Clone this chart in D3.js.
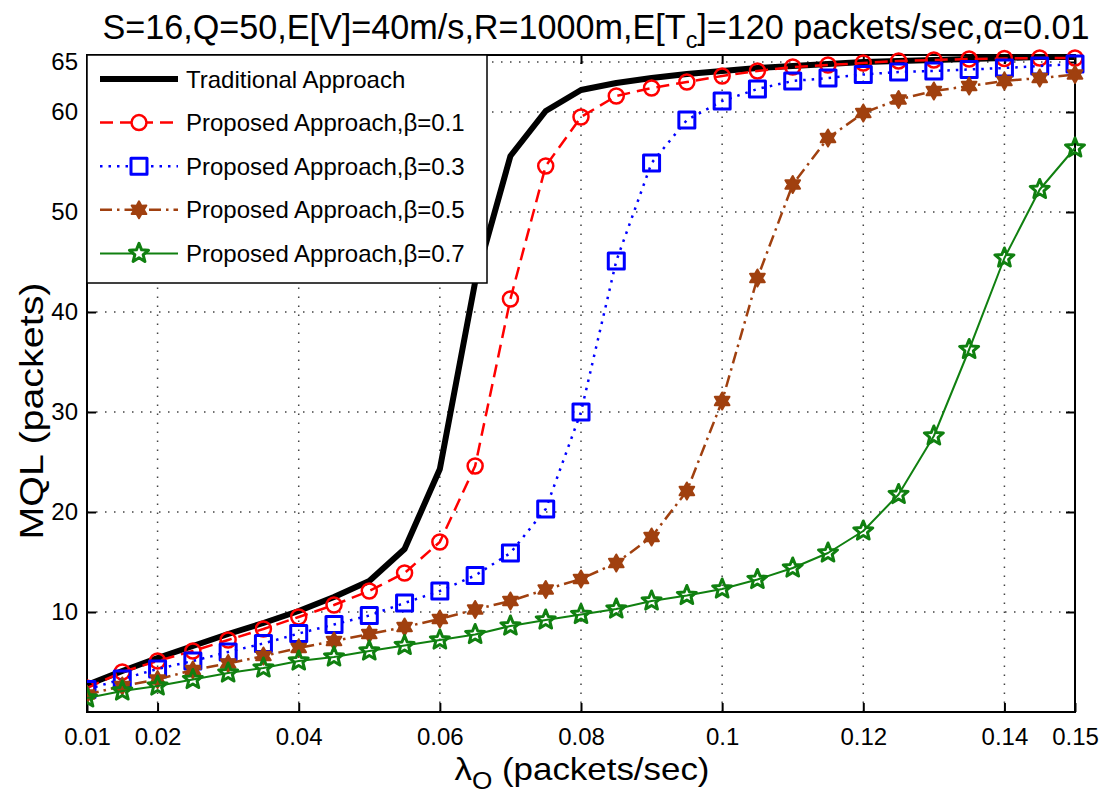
<!DOCTYPE html>
<html>
<head>
<meta charset="utf-8">
<script src="https://cdn.jsdelivr.net/npm/d3@7/dist/d3.min.js"></script>
<style>
  body { margin: 0; background: #fff; }
  text { font-family: "Liberation Sans", Arial, Helvetica, sans-serif; fill: #000; }
</style>
</head>
<body>
<svg id="chart" width="1110" height="800"></svg>
<script>
// arrival rate lambda_O (packets/sec)
var lambdas = [0.010, 0.015, 0.020, 0.025, 0.030, 0.035, 0.040, 0.045, 0.050, 0.055,
               0.060, 0.065, 0.070, 0.075, 0.080, 0.085, 0.090, 0.095, 0.100, 0.105,
               0.110, 0.115, 0.120, 0.125, 0.130, 0.135, 0.140, 0.145, 0.150];

// MQL (packets)
var traditional = [2.7, 4.1, 5.4, 6.6, 7.8, 8.9, 10.1, 11.5, 13.1, 16.3,
                   24.3, 43.0, 55.6, 60.1, 62.2, 62.9, 63.4, 63.8, 64.1, 64.4,
                   64.6, 64.8, 65.0, 65.1, 65.2, 65.3, 65.4, 65.5, 65.5];
var beta01 = [2.4, 4.0, 5.1, 6.1, 7.2, 8.3, 9.5, 10.7, 12.1, 13.9,
              17.0, 24.6, 41.3, 54.6, 59.5, 61.6, 62.4, 63.0, 63.6, 64.1,
              64.5, 64.7, 64.9, 65.1, 65.2, 65.3, 65.35, 65.4, 65.4];
var beta03 = [2.25, 3.3, 4.3, 5.1, 6.0, 6.85, 7.85, 8.75, 9.65, 10.9,
              12.1, 13.65, 15.9, 20.3, 30.0, 45.1, 54.9, 59.2, 61.1, 62.3,
              63.1, 63.4, 63.75, 64.0, 64.1, 64.25, 64.4, 64.6, 64.8];
var beta05 = [1.75, 2.6, 3.25, 4.2, 4.85, 5.6, 6.4, 7.1, 7.8, 8.5,
              9.3, 10.25, 11.1, 12.25, 13.3, 14.9, 17.5, 22.1, 31.1, 43.4,
              52.75, 57.4, 59.9, 61.25, 62.1, 62.6, 63.1, 63.4, 63.75];
var beta07 = [1.4, 2.1, 2.6, 3.25, 3.9, 4.4, 5.1, 5.5, 6.1, 6.65,
              7.2, 7.75, 8.6, 9.2, 9.75, 10.3, 11.1, 11.65, 12.3, 13.25,
              14.4, 15.9, 18.1, 21.75, 27.6, 36.25, 45.4, 52.25, 56.4];

var seriesNames = ["Traditional Approach", "Proposed Approach,\u03b2=0.1", "Proposed Approach,\u03b2=0.3",
                   "Proposed Approach,\u03b2=0.5", "Proposed Approach,\u03b2=0.7"];

var xTicks = [0.01, 0.02, 0.04, 0.06, 0.08, 0.1, 0.12, 0.14, 0.15];
var yTicks = [10, 20, 30, 40, 50, 60, 65];

// star shaped markers (pentagram / hexagram)
function starPath(n, ro, ri) {
  var pts = [];
  for (var k = 0; k < 2 * n; k++) {
    var a = -Math.PI / 2 + k * Math.PI / n;
    var r = k % 2 ? ri : ro;
    pts.push([(r * Math.cos(a)).toFixed(2), (r * Math.sin(a)).toFixed(2)]);
  }
  return "M" + pts.join("L") + "Z";
}

var styles = [
  {values: traditional, color: "#000000", width: 6,   dash: null,         marker: null,        mfill: "none", mw: 0},
  {values: beta01,      color: "#ff0000", width: 2.5, dash: "13,7",       marker: "circle",    mfill: "none", mw: 2.5},
  {values: beta03,      color: "#0000ff", width: 2.5, dash: "2.5,6",      marker: "square",    mfill: "none", mw: 3},
  {values: beta05,      color: "#a0400f", width: 2.5, dash: "12,5,2.5,5", marker: "hexagram",  mfill: "#a0400f", mw: 2},
  {values: beta07,      color: "#108010", width: 2,   dash: null,         marker: "pentagram", mfill: "none", mw: 3}
];

function markerPath(type) {
  if (type == "circle") return d3.symbol().type(d3.symbolCircle).size(Math.PI * 7.5 * 7.5)();
  if (type == "square") return "M-8,-8L8,-8L8,8L-8,8Z";
  if (type == "hexagram") return starPath(6, 8.5, 4.8);
  if (type == "pentagram") return starPath(5, 10, 4.4);
  return "";
}

(function draw(){
  var svg = d3.select("#chart");
  var pLeft = 87, pRight = 1075, pTop = 55, pBottom = 712;

  var x = d3.scaleLinear().domain([0.01, 0.15]).range([pLeft, pRight]);
  var y = d3.scaleLinear().domain([0, 65.7]).range([pBottom, pTop]);

  // dotted grid
  var grid = svg.append("g").attr("stroke", "#444").attr("stroke-width", 1.5).attr("stroke-dasharray", "1.5,7.5");
  grid.selectAll("line.v")
    .data(xTicks.filter(function(d){ return d > 0.01 && d < 0.15; }))
    .enter().append("line").attr("class", "v")
    .attr("x1", function(d){ return x(d); }).attr("x2", function(d){ return x(d); })
    .attr("y1", pBottom).attr("y2", pTop);
  grid.selectAll("line.h")
    .data(yTicks)
    .enter().append("line").attr("class", "h")
    .attr("y1", function(d){ return y(d); }).attr("y2", function(d){ return y(d); })
    .attr("x1", pLeft).attr("x2", pRight);

  // axes with inward ticks on all four sides
  var fmt = function(d){ return String(+d.toFixed(2)); };
  var xAxis = svg.append("g").attr("transform", "translate(0," + pBottom + ")")
    .call(d3.axisBottom(x).tickValues(xTicks).tickFormat(fmt).tickSizeInner(-9).tickSizeOuter(0).tickPadding(22));
  svg.append("g").attr("transform", "translate(0," + pTop + ")")
    .call(d3.axisTop(x).tickValues(xTicks).tickFormat("").tickSizeInner(-9).tickSizeOuter(0));
  svg.append("g").attr("transform", "translate(" + pLeft + ",0)")
    .call(d3.axisLeft(y).tickValues(yTicks).tickSizeInner(-9).tickSizeOuter(0).tickPadding(9));
  svg.append("g").attr("transform", "translate(" + pRight + ",0)")
    .call(d3.axisRight(y).tickValues(yTicks).tickFormat("").tickSizeInner(-9).tickSizeOuter(0));

  svg.selectAll(".domain").remove();
  svg.selectAll(".tick line").attr("stroke", "#000").attr("stroke-width", 2);
  svg.selectAll(".tick text").attr("font-size", "24px").attr("fill", "#222");
  xAxis.selectAll(".tick text").attr("dy", "0.45em");

  // plot box
  svg.append("rect")
    .attr("x", pLeft).attr("y", pTop).attr("width", pRight - pLeft).attr("height", pBottom - pTop)
    .attr("fill", "none").attr("stroke", "#000").attr("stroke-width", 2);

  svg.append("clipPath").attr("id", "plotClip").append("rect")
    .attr("x", pLeft).attr("y", pTop - 12).attr("width", pRight - pLeft + 12).attr("height", pBottom - pTop + 12);

  var plot = svg.append("g").attr("clip-path", "url(#plotClip)");
  var line = d3.line()
    .x(function(d, i){ return x(lambdas[i]); })
    .y(function(d){ return y(d); });

  styles.forEach(function(s){
    plot.append("path")
      .datum(s.values)
      .attr("d", line)
      .attr("fill", "none")
      .attr("stroke", s.color)
      .attr("stroke-width", s.width)
      .attr("stroke-linejoin", "round")
      .attr("stroke-dasharray", s.dash);
    if (s.marker) {
      plot.append("g").selectAll("path")
        .data(s.values)
        .enter().append("path")
        .attr("d", markerPath(s.marker))
        .attr("transform", function(d, i){ return "translate(" + x(lambdas[i]) + "," + y(d) + ")"; })
        .attr("fill", s.mfill)
        .attr("stroke", s.color)
        .attr("stroke-linejoin", "round")
        .attr("stroke-width", s.mw);
    }
  });

  // legend
  var legend = svg.append("g");
  legend.append("rect")
    .attr("x", pLeft).attr("y", pTop).attr("width", 400).attr("height", 228)
    .attr("fill", "#fff").attr("stroke", "#000").attr("stroke-width", 1.5);
  var rows = legend.selectAll("g.row")
    .data(styles)
    .enter().append("g").attr("class", "row")
    .attr("transform", function(d, i){ return "translate(0," + (79 + i * 43.6) + ")"; });
  rows.append("line")
    .attr("x1", 100).attr("x2", 178).attr("y1", 0).attr("y2", 0)
    .attr("stroke", function(d){ return d.color; })
    .attr("stroke-width", function(d){ return d.width; })
    .attr("stroke-dasharray", function(d){ return d.dash ? d.dash : null; });
  rows.filter(function(d){ return d.marker; }).append("path")
    .attr("d", function(d){ return markerPath(d.marker); })
    .attr("transform", "translate(139,0)")
    .attr("fill", function(d){ return d.mfill == "none" ? "#fff" : d.mfill; })
    .attr("stroke", function(d){ return d.color; })
    .attr("stroke-linejoin", "round")
    .attr("stroke-width", function(d){ return d.mw; });
  rows.append("text")
    .attr("x", 186).attr("y", 0).attr("dy", "0.36em")
    .attr("font-size", "24px").attr("fill", "#222")
    .text(function(d, i){ return seriesNames[i]; });

  // title
  var title = svg.append("text")
    .attr("x", 596).attr("y", 39)
    .attr("text-anchor", "middle")
    .attr("font-size", "35px")
    .attr("textLength", 987).attr("lengthAdjust", "spacingAndGlyphs");
  title.append("tspan").text("S=16,Q=50,E[V]=40m/s,R=1000m,E[T");
  title.append("tspan").attr("dy", 9).attr("font-size", "24px").text("c");
  title.append("tspan").attr("dy", -9).text("]=120 packets/sec,\u03b1=0.01");

  // x label
  var xl = svg.append("text")
    .attr("x", 582).attr("y", 780)
    .attr("text-anchor", "middle")
    .attr("font-size", "32px")
    .attr("textLength", 255).attr("lengthAdjust", "spacingAndGlyphs");
  xl.append("tspan").text("\u03bb");
  xl.append("tspan").attr("dy", 9).attr("font-size", "24px").text("O");
  xl.append("tspan").attr("dy", -9).text(" (packets/sec)");

  // y label
  svg.append("text")
    .attr("transform", "translate(43,411) rotate(-90)")
    .attr("text-anchor", "middle")
    .attr("font-size", "34px")
    .attr("textLength", 257).attr("lengthAdjust", "spacingAndGlyphs")
    .text("MQL (packets)");
})();
</script>
</body>
</html>
